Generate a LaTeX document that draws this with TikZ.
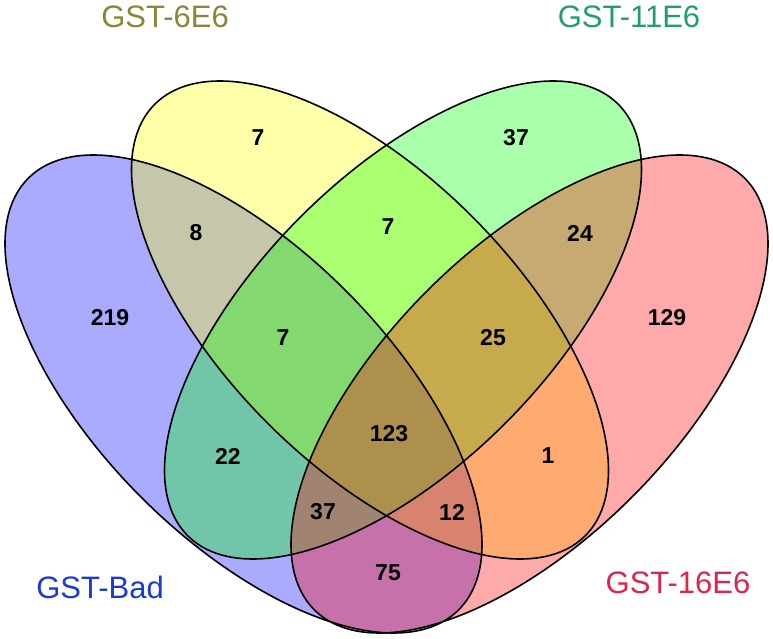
\documentclass[tikz,border=0pt]{standalone}
\usepackage{fontspec}
\setmainfont{Liberation Sans}
\definecolor{vblue}{RGB}{0,0,255}
\definecolor{vyellow}{RGB}{255,255,0}
\definecolor{vgreen}{RGB}{0,255,0}
\definecolor{vred}{RGB}{255,0,0}
\definecolor{catolive}{RGB}{138,134,52}
\definecolor{catgreen}{RGB}{34,158,108}
\definecolor{catblue}{RGB}{26,58,214}
\definecolor{catred}{RGB}{220,36,76}
\newcommand\vennshape[3]{plot[domain=0:357,samples=120,smooth cycle,variable=\t]
  ({#1+#3*238.5*cos(\t)},{638-(#2+239*cos(\t-51))})}
\begin{document}
\begin{tikzpicture}[x=1pt,y=1pt,
  vfill/.style={fill=#1,fill opacity=0.333},
  vline/.style={draw=black,line width=1.6pt},
  num/.style={font=\fontsize{23}{23}\selectfont\bfseries,inner sep=0pt},
  cat/.style={font=\fontsize{31}{31}\selectfont,inner sep=0pt}]
\useasboundingbox (0,0) rectangle (773,638);
% fills: blue, yellow, green, red
\path[vfill=vblue] \vennshape{243.5}{394}{1};
\path[vfill=vyellow] \vennshape{370}{320}{1};
\path[vfill=vgreen] \vennshape{403}{320}{-1};
\path[vfill=vred] \vennshape{529.5}{394}{-1};
% outlines
\draw[vline] \vennshape{243.5}{394}{1};
\draw[vline] \vennshape{370}{320}{1};
\draw[vline] \vennshape{403}{320}{-1};
\draw[vline] \vennshape{529.5}{394}{-1};
% counts
\node[num] (n1) at (258,638-138) {7};
\node[num] (n2) at (516,638-138) {37};
\node[num] (n3) at (196,638-233) {8};
\node[num] (n4) at (388,638-227) {7};
\node[num] (n5) at (580,638-233) {24};
\node[num] (n6) at (110,638-318) {219};
\node[num] (n7) at (283,638-338) {7};
\node[num] (n8) at (493,638-338) {25};
\node[num] (n9) at (667,638-318) {129};
\node[num] (n10) at (389,638-434) {123};
\node[num] (n11) at (228,638-456) {22};
\node[num] (n12) at (548,638-456) {1};
\node[num] (n13) at (323,638-512) {37};
\node[num] (n14) at (452,638-512) {12};
\node[num] (n15) at (388,638-573) {75};
% category labels
\node[cat,text=catolive] (c1) at (165,638-17) {GST-6E6};
\node[cat,text=catgreen] (c2) at (629,638-17) {GST-11E6};
\node[cat,text=catblue] (c3) at (100,638-587) {GST-Bad};
\node[cat,text=catred] (c4) at (678,638-583) {GST-16E6};
\end{tikzpicture}
\end{document}
